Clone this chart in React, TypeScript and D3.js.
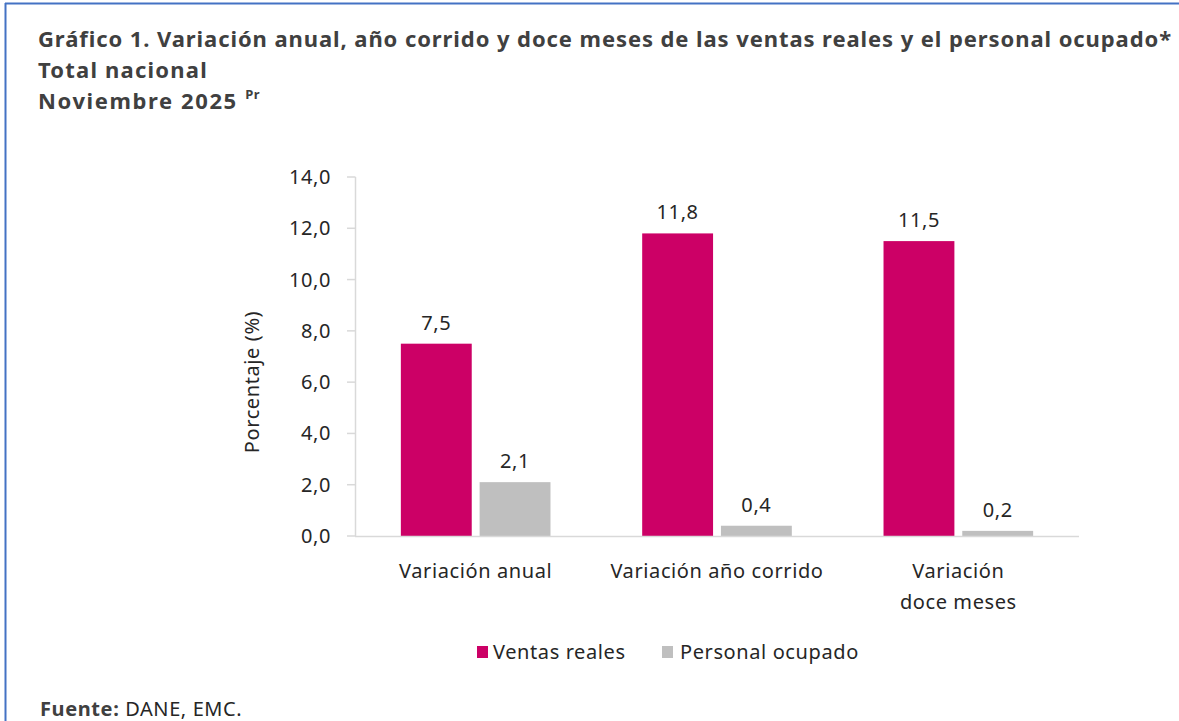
import React from "react";
import * as d3 from "d3";

const categories: string[][] = [["Variación anual"], ["Variación año corrido"], ["Variación", "doce meses"]];
const categoryKeys = ["anual", "corrido", "doce"];
const seriesNames = ["Ventas reales", "Personal ocupado"];
const ventasReales = [7.5, 11.8, 11.5];
const personalOcupado = [2.1, 0.4, 0.2];
const yTicks = [0, 2, 4, 6, 8, 10, 12, 14];
const seriesColors = ["#CC0066", "#BFBFBF"];

const W = 1179;
const H = 721;
const FONT = "'Noto Sans', 'Open Sans', sans-serif";
const BODY = 20;
const LS = 0.6;

export default function App() {
  const x0 = d3.scaleBand<string>().domain(categoryKeys).range([355, 1079]).paddingInner(0.38).paddingOuter(0.19);
  const x1 = d3.scaleBand<string>().domain(seriesNames).range([0, x0.bandwidth()]).paddingInner(0.1);
  const y = d3.scaleLinear().domain([0, 14]).range([536, 177]);
  const fmt = (v: number) => d3.format(".1f")(v).replace(".", ",");
  const values = [ventasReales, personalOcupado];

  return (
    <svg width={W} height={H} style={{ position: "absolute", left: 0, top: 0, background: "#fff" }} fontFamily={FONT}>
      {/* frame */}
      <line x1={5.5} y1={3} x2={5.5} y2={H} stroke="#4472C4" strokeWidth={2} />
      <line x1={5} y1={3.5} x2={W} y2={3.5} stroke="#4472C4" strokeWidth={2} />

      {/* title */}
      <g fill="#404040" fontWeight="bold" fontSize={22} letterSpacing={0.9}>
        <text x={38} y={47} textLength={1134} lengthAdjust="spacing">
          Gráfico 1. Variación anual, año corrido y doce meses de las ventas reales y el personal ocupado*
        </text>
        <text x={38} y={78} letterSpacing={1.2}>Total nacional</text>
        <text x={38} y={109} letterSpacing={1.6}>
          Noviembre 2025 <tspan fontSize={13} dy={-10} letterSpacing={0.5}>Pr</tspan>
        </text>
      </g>

      <g fontSize={BODY} letterSpacing={LS} fill="#262626">
        {/* y axis */}
        <line x1={355.5} y1={y(14)} x2={355.5} y2={y(0)} stroke="#D9D9D9" strokeWidth={1.5} />
        {yTicks.map((t) => (
          <g key={t}>
            <line x1={347} x2={355.5} y1={y(t)} y2={y(t)} stroke="#D9D9D9" strokeWidth={1.5} />
            <text x={331} y={y(t)} dy="0.35em" textAnchor="end">
              {fmt(t)}
            </text>
          </g>
        ))}
        <text transform={`translate(259,382) rotate(-90)`} textAnchor="middle">
          Porcentaje (%)
        </text>

        {/* bars */}
        {categoryKeys.map((c, i) => (
          <g key={c} transform={`translate(${x0(c)},0)`}>
            {seriesNames.map((s, j) => {
              const v = values[j][i];
              return (
                <g key={s}>
                  <rect x={x1(s)} y={y(v)} width={x1.bandwidth()} height={y(0) - y(v)} fill={seriesColors[j]} />
                  <text x={(x1(s) as number) + x1.bandwidth() / 2} y={y(v) - 14} textAnchor="middle">
                    {fmt(v)}
                  </text>
                </g>
              );
            })}
          </g>
        ))}

        {/* x axis */}
        <line x1={355} x2={1079} y1={y(0) + 0.5} y2={y(0) + 0.5} stroke="#D9D9D9" strokeWidth={1.5} />
        {categoryKeys.map((c, i) => (
          <text key={c} x={(x0(c) as number) + x0.bandwidth() / 2} y={578} textAnchor="middle">
            {categories[i].map((line, k) => (
              <tspan key={k} x={(x0(c) as number) + x0.bandwidth() / 2} dy={k === 0 ? 0 : 31}>
                {line}
              </tspan>
            ))}
          </text>
        ))}

        {/* legend */}
        <rect x={477} y={646} width={11} height={12} fill={seriesColors[0]} />
        <text x={493} y={659}>{seriesNames[0]}</text>
        <rect x={662} y={646} width={11} height={12} fill={seriesColors[1]} />
        <text x={680} y={659}>{seriesNames[1]}</text>

        {/* source */}
        <text x={40} y={716}>
          <tspan fontWeight="bold" fill="#404040">Fuente:</tspan> DANE, EMC.
        </text>
      </g>
    </svg>
  );
}
